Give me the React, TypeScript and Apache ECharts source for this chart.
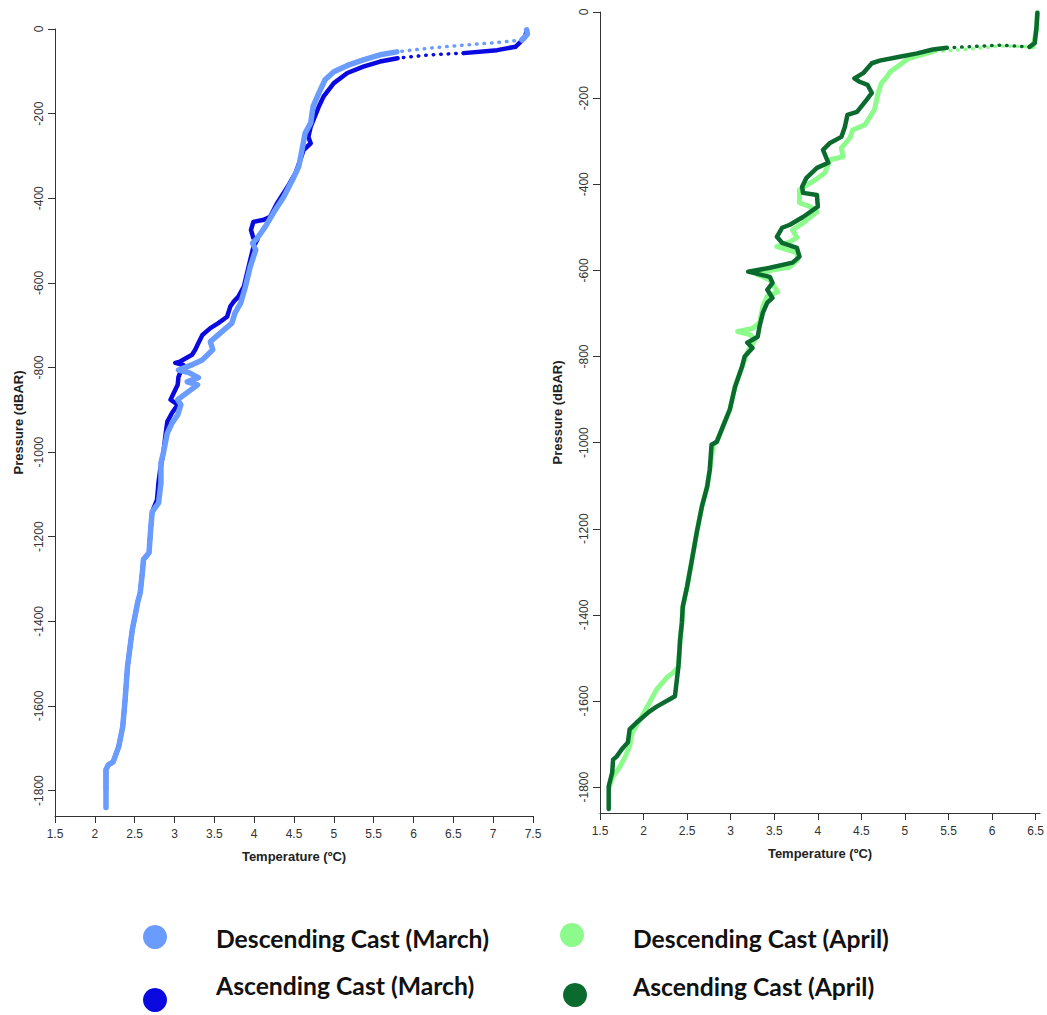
import React, { useEffect, useRef } from "react";
import * as echarts from "echarts";

// ---- Data: [temperature (ºC), pressure (dBAR)] ----
const descMarch: number[][] = [
  [7.42, -2], [7.43, -12], [7.36, -26], [7.05, -32], [6.63, -38], [6.21, -45], [5.79, -54], [5.58, -61],
  [5.37, -73], [5.17, -86], [5.0, -101], [4.89, -120], [4.81, -152], [4.74, -183], [4.71, -222], [4.64, -246],
  [4.6, -286], [4.56, -325], [4.48, -357], [4.37, -397], [4.24, -435], [4.14, -467], [4.04, -494], [3.98, -506],
  [4.02, -522], [3.95, -562], [3.89, -609], [3.83, -648], [3.76, -671], [3.72, -695], [3.45, -739], [3.48, -758],
  [3.35, -782], [3.2, -795], [3.05, -806], [3.18, -812], [3.3, -824], [3.16, -834], [3.29, -841], [3.04, -876],
  [3.08, -888], [3.04, -912], [2.97, -931], [2.91, -955], [2.86, -1002], [2.83, -1025], [2.83, -1073], [2.8, -1120],
  [2.72, -1141], [2.7, -1184], [2.68, -1238], [2.61, -1254], [2.6, -1278], [2.57, -1332], [2.54, -1353], [2.47, -1420],
  [2.41, -1507], [2.38, -1585], [2.35, -1649], [2.3, -1696], [2.23, -1732], [2.17, -1739], [2.14, -1750], [2.14, -1840],
];

const ascMarch: number[][] = [
  [7.42, -2], [7.4, -20], [7.28, -42], [7.05, -50], [6.63, -57], [6.21, -61], [5.8, -69], [5.58, -77],
  [5.37, -89], [5.17, -104], [5.0, -128], [4.87, -160], [4.81, -184], [4.77, -203], [4.71, -231], [4.68, -255],
  [4.71, -270], [4.62, -286], [4.58, -309], [4.52, -340], [4.42, -373], [4.29, -411], [4.2, -444], [4.12, -451],
  [3.99, -456], [3.96, -475], [3.99, -494], [4.04, -498], [3.99, -515], [3.93, -562], [3.87, -609], [3.8, -633],
  [3.74, -645], [3.7, -656], [3.66, -680], [3.55, -695], [3.45, -707], [3.35, -723], [3.3, -742], [3.26, -758],
  [3.22, -770], [3.07, -786], [3.01, -789], [3.11, -794], [3.05, -822], [3.04, -841], [2.95, -876], [3.04, -888],
  [2.97, -907], [2.91, -928], [2.89, -955], [2.86, -1002], [2.82, -1042], [2.8, -1070], [2.78, -1113], [2.72, -1141],
  [2.7, -1184], [2.68, -1238], [2.61, -1254], [2.6, -1278], [2.57, -1332], [2.54, -1353], [2.47, -1420], [2.41, -1507],
  [2.38, -1585], [2.35, -1649], [2.3, -1696], [2.23, -1732], [2.17, -1739], [2.14, -1750], [2.14, -1800],
];

const descApril: number[][] = [
  [6.52, -2], [6.51, -40], [6.47, -81], [6.09, -79], [5.71, -87], [5.32, -92], [5.06, -107], [5.02, -111],
  [4.94, -123], [4.83, -139], [4.79, -151], [4.73, -165], [4.69, -190], [4.65, -227], [4.54, -262], [4.4, -274],
  [4.37, -292], [4.27, -316], [4.29, -336], [4.14, -343], [4.08, -374], [3.97, -390], [3.79, -413], [3.79, -443],
  [3.91, -452], [3.99, -464], [3.83, -490], [3.71, -506], [3.76, -524], [3.68, -534], [3.53, -545], [3.76, -559],
  [3.77, -575], [3.68, -592], [3.48, -599], [3.31, -610], [3.45, -622], [3.54, -650], [3.42, -660], [3.37, -684],
  [3.33, -722], [3.25, -735], [3.08, -742], [3.22, -749], [3.28, -761], [3.19, -791], [3.13, -824], [3.05, -870],
  [2.99, -923], [2.91, -963], [2.84, -998], [2.8, -1005], [2.76, -1063], [2.73, -1102], [2.67, -1148], [2.61, -1209],
  [2.55, -1278], [2.5, -1334], [2.45, -1381], [2.44, -1418], [2.42, -1457], [2.4, -1520], [2.34, -1534], [2.27, -1545],
  [2.15, -1573], [2.07, -1603], [1.96, -1643], [1.87, -1673], [1.84, -1705], [1.79, -1729], [1.73, -1752], [1.65, -1775],
  [1.62, -1790], [1.61, -1800],
];

const ascApril: number[][] = [
  [6.52, -2], [6.51, -35], [6.49, -72], [6.43, -81], [6.09, -77], [5.71, -81], [5.48, -83], [5.32, -87],
  [5.14, -96], [4.94, -104], [4.71, -113], [4.62, -119], [4.52, -142], [4.42, -154], [4.48, -162], [4.57, -169],
  [4.62, -188], [4.56, -204], [4.45, -232], [4.34, -239], [4.31, -267], [4.27, -290], [4.14, -304], [4.06, -320],
  [4.12, -350], [3.99, -362], [3.87, -385], [3.82, -406], [3.83, -420], [3.99, -425], [4.0, -452], [3.83, -476],
  [3.68, -494], [3.59, -501], [3.53, -522], [3.59, -536], [3.76, -548], [3.79, -568], [3.71, -582], [3.45, -594],
  [3.2, -603], [3.45, -615], [3.48, -629], [3.42, -645], [3.48, -664], [3.42, -675], [3.37, -698], [3.33, -731],
  [3.31, -754], [3.19, -768], [3.25, -780], [3.16, -800], [3.13, -824], [3.05, -870], [2.99, -923], [2.91, -963],
  [2.84, -998], [2.78, -1005], [2.76, -1063], [2.73, -1102], [2.67, -1148], [2.61, -1209], [2.55, -1278], [2.5, -1334],
  [2.45, -1381], [2.44, -1418], [2.42, -1457], [2.4, -1520], [2.36, -1589], [2.3, -1596], [2.15, -1613], [2.07, -1624],
  [1.92, -1650], [1.84, -1666], [1.82, -1696], [1.75, -1712], [1.69, -1729], [1.65, -1736], [1.64, -1766], [1.6, -1798],
  [1.6, -1851],
];

// near-surface stretch where the instrument sampled sparsely (drawn as dots): [start, end] indices
const sparseMarchDesc = [2, 6];
const sparseMarchAsc = [4, 6];
const sparseAprilDesc = [2, 5];
const sparseAprilAsc = [3, 6];

const seriesNames = [
  "Descending Cast (March)",
  "Ascending Cast (March)",
  "Descending Cast (April)",
  "Ascending Cast (April)",
];

const xTicksLeft = [1.5, 2, 2.5, 3, 3.5, 4, 4.5, 5, 5.5, 6, 6.5, 7, 7.5];
const xTicksRight = [1.5, 2, 2.5, 3, 3.5, 4, 4.5, 5, 5.5, 6, 6.5];
const yTicks = [0, -200, -400, -600, -800, -1000, -1200, -1400, -1600, -1800];

const COLORS = ["#6a9bff", "#0a0ae0", "#8cfb8c", "#0b6b2e"];

export default function App() {
  const ref = useRef<HTMLDivElement>(null);
  useEffect(() => {
    if (!ref.current) return;
    const chart = echarts.init(ref.current, null, { renderer: "svg" });
    const font = "'Liberation Sans', Arial, sans-serif";
    const mkX = (idx: number, max: number, ticks: number[]) => ({
      type: "value",
      gridIndex: idx,
      min: 1.5,
      max,
      name: "Temperature (ºC)",
      nameLocation: "middle",
      nameGap: 34,
      nameTextStyle: { fontFamily: font, fontWeight: "bold", fontSize: 13, color: "#222" },
      axisLine: { onZero: false, lineStyle: { color: "#333", width: 1 } },
      axisTick: { show: true, length: 7, customValues: ticks, lineStyle: { color: "#333" } },
      axisLabel: {
        customValues: ticks,
        formatter: (v: number) => String(v),
        fontFamily: font,
        fontSize: 12,
        color: "#333",
        margin: 12,
      },
      splitLine: { show: false },
    });
    const mkY = (idx: number, gap: number) => ({
      type: "value",
      gridIndex: idx,
      min: -1860,
      max: 0,
      name: "Pressure (dBAR)",
      nameLocation: "middle",
      nameGap: gap,
      nameRotate: 90,
      nameTextStyle: { fontFamily: font, fontWeight: "bold", fontSize: 13, color: "#222" },
      axisLine: { show: true, onZero: false, lineStyle: { color: "#333", width: 1 } },
      axisTick: { show: true, length: 7, customValues: yTicks, lineStyle: { color: "#333" } },
      axisLabel: {
        customValues: yTicks,
        formatter: (v: number) => String(v),
        rotate: 90,
        fontFamily: font,
        fontSize: 12,
        color: "#333",
        margin: 10,
      },
      splitLine: { show: false },
    });
    const mkLine = (name: string, data: number[][], idx: number, color: string, width: number, dotted = false) => ({
      name,
      type: "line",
      xAxisIndex: idx,
      yAxisIndex: idx,
      data,
      symbol: "none",
      clip: false,
      lineStyle: dotted
        ? { color, width: 3.5, type: [0.5, 7], cap: "round", join: "round" }
        : { color, width, cap: "round", join: "round" },
      itemStyle: { color },
    });
    // a cast drawn as solid line with a sparse (dotted) near-surface stretch
    const mkCast = (name: string, data: number[][], sp: number[], idx: number, color: string, width: number) => [
      mkLine(name, data.slice(0, sp[0] + 1), idx, color, width),
      mkLine(name, data.slice(sp[0], sp[1] + 1), idx, color, width, true),
      mkLine(name, data.slice(sp[1]), idx, color, width),
    ];

    const legendItems = [
      { name: seriesNames[0], color: COLORS[0], cx: 155, cy: 937, tx: 216, ty: 938 },
      { name: seriesNames[1], color: COLORS[1], cx: 155, cy: 1000, tx: 216, ty: 985 },
      { name: seriesNames[2], color: COLORS[2], cx: 572, cy: 935, tx: 633, ty: 938 },
      { name: seriesNames[3], color: COLORS[3], cx: 575, cy: 995, tx: 633, ty: 986 },
    ];
    const graphic: any[] = [];
    legendItems.forEach((it) => {
      graphic.push({ type: "circle", shape: { cx: it.cx, cy: it.cy, r: 12 }, style: { fill: it.color } });
      graphic.push({
        type: "text",
        x: it.tx,
        y: it.ty,
        style: {
          text: it.name,
          fill: "#111",
          font: "bold 24.7px Lato, 'Open Sans', sans-serif",
          verticalAlign: "middle",
        },
      });
    });

    chart.setOption({
      animation: false,
      backgroundColor: "#ffffff",
      grid: [
        { left: 55, top: 29, width: 478, height: 787 },
        { left: 600, top: 12, width: 440, height: 801 },
      ],
      xAxis: [mkX(0, 7.5, xTicksLeft), mkX(1, 6.55, xTicksRight)],
      yAxis: [mkY(0, 30), mkY(1, 36)],
      series: [
        ...mkCast(seriesNames[1], ascMarch, sparseMarchAsc, 0, COLORS[1], 4.5),
        ...mkCast(seriesNames[0], descMarch, sparseMarchDesc, 0, COLORS[0], 5.5),
        ...mkCast(seriesNames[2], descApril, sparseAprilDesc, 1, COLORS[2], 5),
        ...mkCast(seriesNames[3], ascApril, sparseAprilAsc, 1, COLORS[3], 4.5),
      ],
      graphic,
    });
    return () => chart.dispose();
  }, []);
  return <div ref={ref} style={{ width: 1047, height: 1015, position: "absolute", left: 0, top: 0 }} />;
}
